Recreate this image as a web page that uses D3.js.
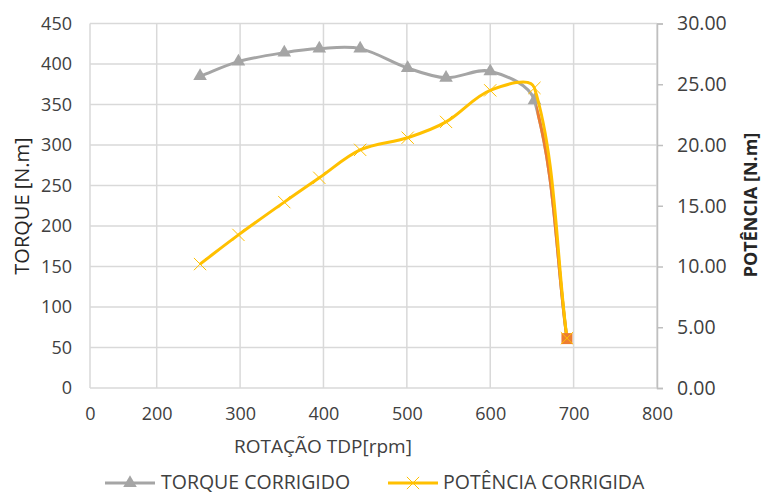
<!DOCTYPE html>
<html>
<head>
<meta charset="utf-8">
<script src="https://cdn.jsdelivr.net/npm/d3@7"></script>
<style>
  body { margin: 0; background: #fff; }
  text { font-family: "Open Sans", sans-serif; }
</style>
</head>
<body>
<svg width="761" height="494"></svg>
<script>
// dados
let rpm = [252, 298, 353, 395, 444, 501, 547, 600, 653, 692];
let torque = [385, 403, 414, 419, 419, 395, 383, 391, 355, 61];
let potencia = [10.2, 12.6, 15.3, 17.3, 19.6, 20.6, 21.9, 24.5, 24.7, 4.1];

let xTicks = [120, 200, 300, 400, 500, 600, 700, 800];
let xTickLabels = ["0", "200", "300", "400", "500", "600", "700", "800"];
let yTicks = [0, 50, 100, 150, 200, 250, 300, 350, 400, 450];
let y2Ticks = [0, 5, 10, 15, 20, 25, 30];

let s = d3.select("svg");

let pLeft = 90, pRight = 657, pTop = 23.5, pBottom = 388;

let x = d3.scaleLinear().domain([120, 800]).range([pLeft, pRight]);
let y = d3.scaleLinear().domain([0, 450]).range([pBottom, pTop]);
let y2 = d3.scaleLinear().domain([0, 30]).range([pBottom, pTop]);

let gridColor = "#d9d9d9";
let labelColor = "#404040";

// curva suavizada parecida com a do Excel
function excelCurve(context) {
    let pts;
    return {
        lineStart: function () { pts = []; },
        point: function (px, py) { pts.push([+px, +py]); },
        lineEnd: function () {
            let n = pts.length;
            if (!n) return;
            context.moveTo(pts[0][0], pts[0][1]);
            let dist = (a, b) => Math.hypot(b[0] - a[0], b[1] - a[1]);
            for (let i = 0; i < n - 1; i++) {
                let p0 = pts[Math.max(i - 1, 0)], p1 = pts[i], p2 = pts[i + 1], p3 = pts[Math.min(i + 2, n - 1)];
                let d01 = dist(p0, p1), d12 = dist(p1, p2), d23 = dist(p2, p3);
                let f1 = d12 / (d01 + d12) / 3, f2 = d12 / (d12 + d23) / 3;
                context.bezierCurveTo(
                    p1[0] + (p2[0] - p0[0]) * f1, p1[1] + (p2[1] - p0[1]) * f1,
                    p2[0] - (p3[0] - p1[0]) * f2, p2[1] - (p3[1] - p1[1]) * f2,
                    p2[0], p2[1]);
            }
        },
        areaStart: function () {},
        areaEnd: function () {}
    };
}

// grade horizontal
s.append("g")
    .selectAll("line")
    .data(yTicks)
    .join("line")
    .attr("x1", pLeft)
    .attr("x2", pRight)
    .attr("y1", d => y(d))
    .attr("y2", d => y(d))
    .attr("stroke", gridColor)
    .attr("stroke-width", 1.5);

// grade vertical
s.append("g")
    .selectAll("line")
    .data(xTicks)
    .join("line")
    .attr("x1", d => x(d))
    .attr("x2", d => x(d))
    .attr("y1", pTop)
    .attr("y2", pBottom)
    .attr("stroke", gridColor)
    .attr("stroke-width", 1.5);

// eixo esquerdo
let yAxis = s.append("g")
    .attr("transform", "translate(" + pLeft + ",0)")
    .call(d3.axisLeft(y).tickValues(yTicks).tickSize(0).tickPadding(18));

// eixo direito
let y2Axis = s.append("g")
    .attr("transform", "translate(" + pRight + ",0)")
    .call(d3.axisRight(y2).tickValues(y2Ticks).tickSize(6).tickPadding(14).tickFormat(d3.format(".2f")));

// eixo x
let xAxis = s.append("g")
    .attr("transform", "translate(0," + pBottom + ")")
    .call(d3.axisBottom(x).tickValues(xTicks).tickSize(0).tickPadding(19)
        .tickFormat((d, i) => xTickLabels[i]));

yAxis.select(".domain").remove();
xAxis.select(".domain").remove();
y2Axis.select(".domain").attr("stroke", "#bfbfbf").attr("stroke-width", 1.5);
y2Axis.selectAll(".tick line").attr("stroke", "#bfbfbf").attr("stroke-width", 1.5);

s.selectAll(".tick text")
    .attr("fill", labelColor)
    .style("font-size", "18px")
    .style("font-family", "Open Sans, sans-serif");
y2Axis.selectAll(".tick text").style("font-size", "19.5px");

// titulos
s.append("text")
    .attr("transform", "translate(29,206) rotate(-90)")
    .attr("text-anchor", "middle")
    .attr("fill", "#262626")
    .style("font-size", "20px")
    .text("TORQUE [N.m]");

s.append("text")
    .attr("transform", "translate(757,205) rotate(-90)")
    .attr("text-anchor", "middle")
    .attr("fill", "#262626")
    .style("font-size", "18px")
    .style("font-weight", "bold")
    .text("POTÊNCIA [N.m]");

s.append("text")
    .attr("x", 323)
    .attr("y", 453)
    .attr("text-anchor", "middle")
    .attr("fill", labelColor)
    .style("font-size", "19px")
    .text("ROTAÇÃO TDP[rpm]");

// linhas
let lineT = d3.line()
    .x((d, i) => x(rpm[i]))
    .y(d => y(d))
    .curve(excelCurve);

let lineP = d3.line()
    .x((d, i) => x(rpm[i]))
    .y(d => y2(d))
    .curve(excelCurve);

let n = rpm.length - 1;

s.append("path")
    .attr("d", lineT(torque))
    .attr("fill", "none")
    .attr("stroke", "#a5a5a5")
    .attr("stroke-width", 3);

// trecho final do torque em laranja
s.append("clipPath")
    .attr("id", "clipDrop")
    .append("rect")
    .attr("x", x(rpm[n - 1]) + 2)
    .attr("y", pTop)
    .attr("width", pRight - x(rpm[n - 1]))
    .attr("height", pBottom - pTop);

s.append("path")
    .attr("d", lineT(torque))
    .attr("clip-path", "url(#clipDrop)")
    .attr("fill", "none")
    .attr("stroke", "#ed7d31")
    .attr("stroke-width", 3);

let tri = d3.symbol().type(d3.symbolTriangle).size(80);

s.append("g")
    .selectAll("path")
    .data(torque.slice(0, n))
    .join("path")
    .attr("d", tri)
    .attr("transform", (d, i) => "translate(" + x(rpm[i]) + "," + y(d) + ")")
    .attr("fill", "#a5a5a5");

s.append("path")
    .attr("d", lineP(potencia))
    .attr("fill", "none")
    .attr("stroke", "#ffc000")
    .attr("stroke-width", 3);

// ultimo ponto laranja
s.append("rect")
    .attr("x", x(rpm[n]) - 5.5)
    .attr("y", y(torque[n]) - 5.5)
    .attr("width", 11)
    .attr("height", 11)
    .attr("fill", "#ed7d31");

let cross = d3.symbol().type(d3.symbolX).size(100);

s.append("g")
    .selectAll("path")
    .data(potencia)
    .join("path")
    .attr("d", cross)
    .attr("transform", (d, i) => "translate(" + x(rpm[i]) + "," + y2(d) + ")")
    .attr("fill", "none")
    .attr("stroke", "#ffc000")
    .attr("stroke-width", 1);

// legenda
let leg = s.append("g");

leg.append("line")
    .attr("x1", 105).attr("x2", 155)
    .attr("y1", 483).attr("y2", 483)
    .attr("stroke", "#a5a5a5")
    .attr("stroke-width", 3);
leg.append("path")
    .attr("d", tri)
    .attr("transform", "translate(130,483)")
    .attr("fill", "#a5a5a5");
leg.append("text")
    .attr("x", 161)
    .attr("y", 489)
    .attr("fill", labelColor)
    .style("font-size", "19.5px")
    .text("TORQUE CORRIGIDO");

leg.append("line")
    .attr("x1", 388).attr("x2", 438)
    .attr("y1", 483).attr("y2", 483)
    .attr("stroke", "#ffc000")
    .attr("stroke-width", 3);
leg.append("path")
    .attr("d", cross)
    .attr("transform", "translate(413,483)")
    .attr("fill", "none")
    .attr("stroke", "#ffc000")
    .attr("stroke-width", 1);
leg.append("text")
    .attr("x", 443)
    .attr("y", 489)
    .attr("fill", labelColor)
    .style("font-size", "19.5px")
    .text("POTÊNCIA CORRIGIDA");
</script>
</body>
</html>
